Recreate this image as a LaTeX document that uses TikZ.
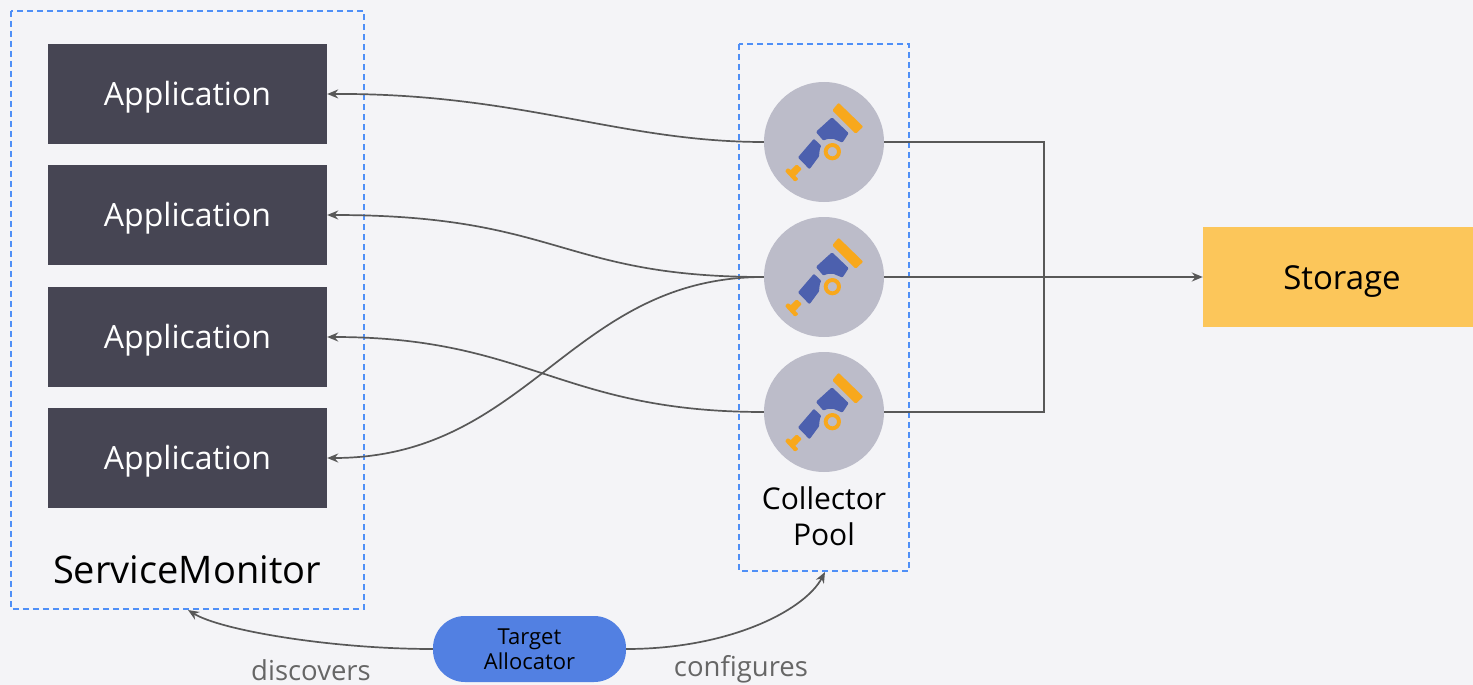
\documentclass[tikz,border=0pt]{standalone}
\usepackage{fontspec}
\setmainfont{Open Sans}
\usetikzlibrary{arrows.meta}
\definecolor{bgc}{HTML}{F4F4F7}
\definecolor{appc}{HTML}{464553}
\definecolor{stor}{HTML}{FCC65A}
\definecolor{dash}{HTML}{4F8FF7}
\definecolor{pool}{HTML}{BCBCC9}
\definecolor{pill}{HTML}{5280E2}
\definecolor{linec}{HTML}{585858}
\definecolor{tel}{HTML}{4C60AE}
\definecolor{org}{HTML}{F8A81C}
\tikzset{
 appbox/.style={fill=appc,text=white,minimum width=279pt,minimum height=100pt,inner sep=0pt,text height=23pt,text depth=1pt,font=\fontsize{32}{38}\selectfont},
 dashbox/.style={draw=dash,line width=1.7pt,dash pattern=on 6pt off 4pt},
 coll/.style={circle,fill=pool,minimum size=120pt,inner sep=0pt},
 conn/.style={draw=linec,line width=1.7pt},
 arr/.style={conn,-{Stealth[length=11pt,width=9pt]}},
 lab/.style={inner sep=0pt,align=center},
 orgp/.style={fill=org,draw=org,line width=2.6pt,line join=round},
 telp/.style={fill=tel,draw=tel,line width=2.6pt,line join=round},
}
\newcommand{\scopeTel}[1]{%
 \begin{scope}[shift={(#1)},x=0.3333pt,y=-0.3333pt]
  \path[orgp] (44,-112) -- (112,-46) -- (95,-30) -- (30,-95) -- cycle;
  \path[telp] (24,-69) -- (69,-26) -- (54,-3) -- (30,-13) .. controls (15,-15) and (5,-12) .. (-1,-9) -- (-19,-30) -- cycle;
  \path[telp] (-30,-4) -- (-13,12) .. controls (-18,20) and (-17,32) .. (-19,42) -- (-44,76) -- (-73,46) -- cycle;
  \path[orgp] (-82,72) -- (-72,81) -- (-92,102) -- (-82,111) -- (-87,114) -- (-112,87) -- (-108,83) -- (-99,89) -- cycle;
  \draw[org,line width=3.9pt] (25,29) circle (20);
 \end{scope}}
\begin{document}
\begin{tikzpicture}[x=1pt,y=-1pt]
\useasboundingbox (0,0) rectangle (1473,685);
\fill[bgc] (0,0) rectangle (1473,685);
\node[appbox] (a1) at (187.5,94) {Application};
\node[appbox] (a2) at (187.5,215) {Application};
\node[appbox] (a3) at (187.5,337) {Application};
\node[appbox] (a4) at (187.5,458) {Application};
\node[fill=stor,minimum width=270pt,minimum height=100pt,inner sep=0pt,text height=25pt,text depth=0pt,font=\fontsize{33}{38}\selectfont] (st) at (1338,277) {\hspace*{8pt}Storage};
\node[lab,font=\fontsize{38}{44}\selectfont] (sm) at (187,570) {ServiceMonitor};
\node[lab,font=\fontsize{30}{36}\selectfont] (cp) at (824,516) {Collector\\Pool};
\draw[dashbox] (11,11) rectangle (364,609);
\draw[dashbox] (739,44) rectangle (909,571);
\coordinate (smb) at (188,610);
\coordinate (cpb) at (825,572);
\coordinate (j1) at (1044,142);
\coordinate (j3) at (1044,412);
\node[coll] (c1) at (824,142) {};
\node[coll] (c2) at (824,277) {};
\node[coll] (c3) at (824,412) {};
\scopeTel{824,142}\scopeTel{824,277}\scopeTel{824,412}
\draw[arr] (c1.west) .. controls (620,142) and (520,93) .. (a1.east);
\draw[arr] (c2.west) .. controls (560,277) and (560,215) .. (a2.east);
\draw[arr] (c3.west) .. controls (560,412) and (530,337) .. (a3.east);
\draw[arr] (c2.west) .. controls (570,277) and (530,458) .. (a4.east);
\draw[conn] (c1.east) -- (j1) -- (j3) -- (c3.east);
\draw[arr] (c2.east) -- (st.west);
\node[fill=pill,rounded corners=32pt,minimum width=193pt,minimum height=66pt,inner sep=0pt,align=center,font=\fontsize{22}{25.5}\selectfont] (ta) at (529.5,649) {Target\\Allocator};
\draw[arr] (ta.west) .. controls (330,649) and (220,630) .. (smb);
\draw[arr] (ta.east) .. controls (730,649) and (805,610) .. (cpb);
\node[lab,text=black!60,font=\fontsize{27.5}{30}\selectfont] (dl) at (311,670) {discovers};
\node[lab,text=black!60,font=\fontsize{27.5}{30}\selectfont] (cl) at (741,669) {configures};
\end{tikzpicture}
\end{document}
